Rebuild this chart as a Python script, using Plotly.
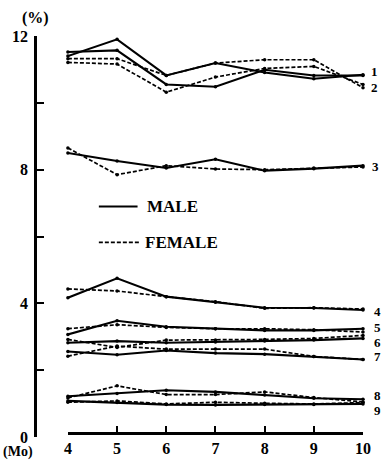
import plotly.graph_objects as go

# Months of observation (x axis)
months = [4, 5, 6, 7, 8, 9, 10]

# Percentages per group, male (solid) and female (dashed)
male_1 = [11.40, 11.90, 10.82, 11.19, 10.91, 10.72, 10.84]
female_1 = [11.32, 11.32, 10.82, 11.19, 11.29, 11.29, 10.45]
male_2 = [11.52, 11.57, 10.55, 10.48, 10.99, 10.82, 10.82]
female_2 = [11.21, 11.16, 10.32, 10.77, 11.03, 11.09, 10.55]
male_3 = [8.50, 8.26, 8.05, 8.31, 7.97, 8.03, 8.12]
female_3 = [8.65, 7.85, 8.12, 8.02, 8.00, 8.05, 8.08]
male_4 = [4.17, 4.75, 4.20, 4.03, 3.87, 3.86, 3.80]
female_4 = [4.43, 4.37, 4.20, 4.05, 3.85, 3.87, 3.83]
male_5 = [3.07, 3.48, 3.30, 3.24, 3.19, 3.19, 3.24]
female_5 = [3.24, 3.36, 3.28, 3.24, 3.24, 3.21, 3.14]
male_6 = [2.82, 2.87, 2.82, 2.84, 2.87, 2.90, 2.95]
female_6 = [2.92, 2.68, 2.90, 2.90, 2.92, 2.95, 3.04]
male_7 = [2.56, 2.46, 2.59, 2.51, 2.48, 2.41, 2.32]
female_7 = [2.42, 2.72, 2.63, 2.63, 2.63, 2.41, 2.32]
male_8 = [1.22, 1.30, 1.40, 1.35, 1.26, 1.16, 1.13]
female_8 = [1.17, 1.53, 1.27, 1.27, 1.35, 1.18, 1.05]
male_9 = [1.08, 1.03, 0.97, 0.96, 0.97, 0.97, 0.99]
female_9 = [1.04, 1.08, 0.99, 1.04, 1.01, 0.99, 1.03]

male_series = [male_1, male_2, male_3, male_4, male_5, male_6, male_7, male_8, male_9]
female_series = [female_1, female_2, female_3, female_4, female_5, female_6, female_7, female_8, female_9]

# Group numbers written at the right-hand end of the lines
group_labels = ["1", "2", "3", "4", "5", "6", "7", "8", "9"]
group_label_y = [10.95, 10.45, 8.1, 3.75, 3.28, 2.84, 2.4, 1.25, 0.8]
group_label_px = [377, 377, 378, 380, 380, 380, 380, 380, 380]

y_tickvals = [0, 2, 4, 6, 8, 10, 12]
y_ticktext = ["0", "", "4", "", "8", "", "12"]

FONT = "Liberation Serif"
W, H = 383, 469
ML, MR, MT, MB = 31, 13, 36, 19
PW, PH = W - ML - MR, H - MT - MB


def paper_x(px):
    return (px - ML) / PW


def paper_y(py):
    return (H - MB - py) / PH


fig = go.Figure()

for ys in female_series:
    fig.add_trace(go.Scatter(
        x=months, y=ys, mode="lines+markers",
        line=dict(color="black", width=1.7, dash="4px,2px"),
        marker=dict(color="black", size=3.5),
        cliponaxis=False, showlegend=False, hoverinfo="skip",
    ))

for ys in male_series:
    fig.add_trace(go.Scatter(
        x=months, y=ys, mode="lines+markers",
        line=dict(color="black", width=2.1),
        marker=dict(color="black", size=3.5),
        cliponaxis=False, showlegend=False, hoverinfo="skip",
    ))

bold = dict(family=FONT, size=16, color="black", weight="bold")

annotations = []
for lab, yv, px in zip(group_labels, group_label_y, group_label_px):
    annotations.append(dict(
        x=paper_x(px), xref="paper", y=yv, yref="y", text=lab,
        showarrow=False, xanchor="left", yanchor="middle",
        font=dict(bold, size=13), borderpad=0,
    ))

# Axis unit captions
annotations.append(dict(x=paper_x(31), xref="paper", y=paper_y(17), yref="paper",
                        text="(%)", showarrow=False, xanchor="center",
                        yanchor="middle", font=dict(bold, size=16), borderpad=0))
annotations.append(dict(x=paper_x(-3), xref="paper", y=paper_y(465), yref="paper",
                        text="(Mo)", showarrow=False, xanchor="left",
                        yanchor="middle", font=dict(bold, size=14), borderpad=0))

# Key: line samples with captions
annotations.append(dict(x=paper_x(145), xref="paper", y=paper_y(212), yref="paper",
                        text="MALE", showarrow=False, xanchor="left",
                        yanchor="middle", font=dict(bold, size=17)))
annotations.append(dict(x=paper_x(143), xref="paper", y=paper_y(249), yref="paper",
                        text="FEMALE", showarrow=False, xanchor="left",
                        yanchor="middle", font=dict(bold, size=17)))

shapes = [
    dict(type="line", xref="paper", yref="paper",
         x0=paper_x(97), x1=paper_x(137), y0=paper_y(212), y1=paper_y(212),
         line=dict(color="black", width=2.1)),
    dict(type="line", xref="paper", yref="paper",
         x0=paper_x(97), x1=paper_x(140), y0=paper_y(249), y1=paper_y(249),
         line=dict(color="black", width=1.7, dash="4px,2px")),
]

fig.update_layout(
    width=W, height=H,
    margin=dict(l=ML, r=MR, t=MT, b=MB),
    paper_bgcolor="white", plot_bgcolor="white",
    showlegend=False,
    annotations=annotations,
    shapes=shapes,
    xaxis=dict(
        domain=[paper_x(65), 1], range=[4, 10],
        anchor="free", position=0.01,
        showline=True, linecolor="black", linewidth=2.5,
        ticks="inside", ticklen=6, tickwidth=2, tickcolor="black",
        tickvals=months, ticktext=[str(m) for m in months],
        tickfont=bold, showgrid=False, zeroline=False,
    ),
    yaxis=dict(
        domain=[0, 1], range=[0, 12],
        anchor="free", position=0,
        showline=True, linecolor="black", linewidth=2.5,
        ticks="inside", ticklen=7, tickwidth=2, tickcolor="black",
        tickvals=y_tickvals, ticktext=y_ticktext,
        tickfont=bold, ticklabelstandoff=3,
        showgrid=False, zeroline=False,
    ),
)

fig.write_html("out.html")
